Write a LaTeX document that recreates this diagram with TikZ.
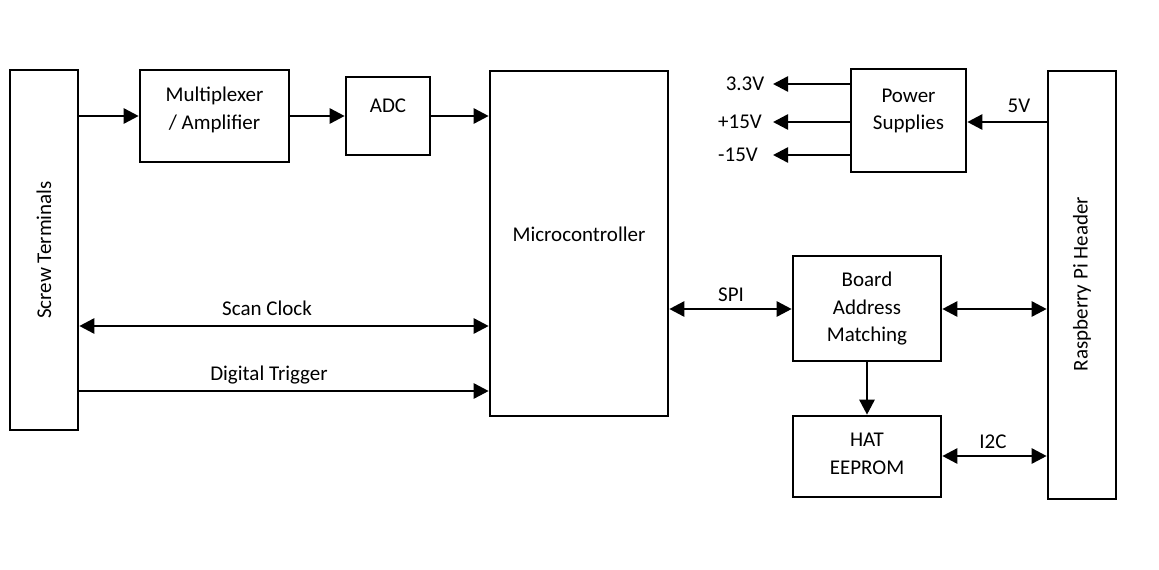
\documentclass[tikz,border=0pt]{standalone}
\usepackage{fontspec}
\setmainfont{Carlito}
\usetikzlibrary{arrows.meta}
\begin{document}
\begin{tikzpicture}[x=1pt,y=-1pt,
  blk/.style={draw,line width=2.6pt,inner sep=0pt},
  lbl/.style={font=\fontsize{21}{27.5}\selectfont,inner sep=0pt,align=center},
  conn/.style={line width=2.6pt,-{Triangle[length=15pt,width=15pt]}},
  bconn/.style={line width=2.6pt,{Triangle[length=15pt,width=15pt]}-{Triangle[length=15pt,width=15pt]}}]
\useasboundingbox (0,0) rectangle (1159,570);
\node[blk,minimum width=68pt,minimum height=360pt] (st) at (44,250) {};
\node[lbl,rotate=90] (stt) at (44,250) {Screw Terminals};
\node[blk,minimum width=149pt,minimum height=92pt] (mux) at (214.5,116) {};
\node[lbl] (muxt) at (214.5,110) {Multiplexer\\/ Amplifier};
\node[blk,minimum width=84pt,minimum height=78pt] (adc) at (388,116) {};
\node[lbl] (adct) at (388,106) {ADC};
\node[blk,minimum width=178pt,minimum height=345pt] (mcu) at (579,243.5) {};
\node[lbl] (mcut) at (579,234) {Microcontroller};
\node[blk,minimum width=115pt,minimum height=103pt] (ps) at (908.5,120.5) {};
\node[lbl] (pst) at (908.5,111) {Power\\Supplies};
\node[blk,minimum width=68pt,minimum height=428pt] (rpi) at (1082,285) {};
\node[lbl,rotate=90] (rpit) at (1082,284) {Raspberry Pi Header};
\node[blk,minimum width=148pt,minimum height=105pt] (bam) at (867,308.5) {};
\node[lbl] (bamt) at (867,309) {Board\\Address\\Matching};
\node[blk,minimum width=148pt,minimum height=81pt] (hat) at (867,456.5) {};
\node[lbl] (hatt) at (867,454) {HAT\\EEPROM};
% left chain
\draw[conn] (st.east |- 0,116) -- (mux.west |- 0,116);
\draw[conn] (mux.east |- 0,116) -- (adc.west |- 0,116);
\draw[conn] (adc.east |- 0,116) -- (mcu.west |- 0,116);
\draw[bconn] (st.east |- 0,326) -- (mcu.west |- 0,326);
\node[lbl] (scl) at (267,308) {Scan Clock};
\draw[conn] (st.east |- 0,391) -- (mcu.west |- 0,391);
\node[lbl] (dtl) at (269,375) {Digital Trigger};
% right side
\draw[bconn] (mcu.east |- 0,309) -- (bam.west |- 0,309);
\node[lbl] (spil) at (731,295) {SPI};
\draw[bconn] (bam.east |- 0,309) -- (rpi.west |- 0,309);
\draw[conn] (bam.south) -- (hat.north);
\draw[bconn] (hat.east |- 0,456) -- (rpi.west |- 0,456);
\node[lbl] (i2cl) at (993,442) {I2C};
\draw[conn] (rpi.west |- 0,122) -- (ps.east |- 0,122);
\node[lbl] (v5l) at (1019,106) {5V};
\coordinate (v33) at (773,84);
\coordinate (v15) at (773,122);
\coordinate (vm15) at (773,155);
\draw[conn] (ps.west |- v33) -- (v33);
\draw[conn] (ps.west |- v15) -- (v15);
\draw[conn] (ps.west |- vm15) -- (vm15);
\node[lbl] (l33) at (745,84) {3.3V};
\node[lbl] (l15) at (740,122) {+15V};
\node[lbl] (lm15) at (738,155) {-15V};
\end{tikzpicture}
\end{document}
